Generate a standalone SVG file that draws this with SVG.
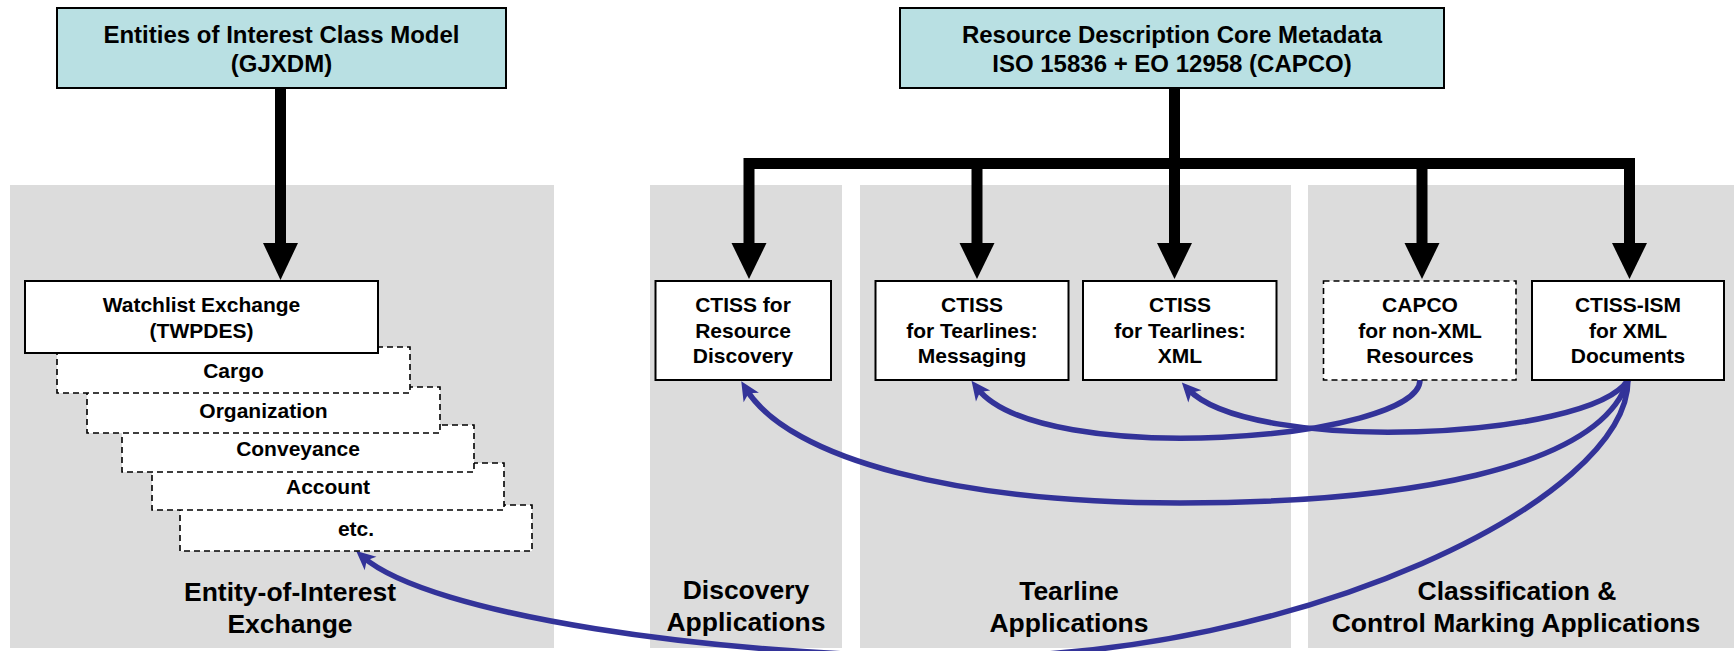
<svg xmlns="http://www.w3.org/2000/svg" width="1734" height="651" viewBox="0 0 1734 651">
<style>
text{font-family:"Liberation Sans",Arial,Helvetica,sans-serif;font-weight:bold;fill:#000;text-anchor:middle}
.panel{fill:#dcdcdc}
.hdr{fill:#b9e0e3;stroke:#000;stroke-width:2}
.box{fill:#fff;stroke:#000;stroke-width:2}
.dbox{fill:#fff;stroke:#000;stroke-width:1.6;stroke-dasharray:6 4}
.t24{font-size:24px}
.t21{font-size:21px}
.lbl{font-size:26.5px}
.blk{fill:none;stroke:#000;stroke-width:11;stroke-linejoin:miter}
.head{fill:#000}
.blue{fill:none;stroke:#333399;stroke-width:5.5;marker-end:url(#ba)}
</style>
<defs>
<marker id="ba" markerUnits="userSpaceOnUse" markerWidth="32" markerHeight="32" viewBox="-16 -16 32 32" refX="0" refY="0" orient="auto">
<path d="M9,0 L-10,-9 L-5,0 L-10,9 Z" fill="#333399"/>
</marker>
</defs>

<g id="panel-entity">
<rect class="panel" x="10" y="185" width="544" height="463"/>
<text class="lbl" x="290" y="601">Entity-of-Interest</text>
<text class="lbl" x="290" y="633">Exchange</text>
</g>
<g id="panel-discovery">
<rect class="panel" x="650" y="185" width="192" height="463"/>
<text class="lbl" x="746" y="599">Discovery</text>
<text class="lbl" x="746" y="631">Applications</text>
</g>
<g id="panel-tearline">
<rect class="panel" x="860" y="185" width="431" height="463"/>
<text class="lbl" x="1069" y="600">Tearline</text>
<text class="lbl" x="1069" y="632">Applications</text>
</g>
<g id="panel-classification">
<rect class="panel" x="1308" y="185" width="426" height="463"/>
<text class="lbl" x="1517" y="600">Classification &amp;</text>
<text class="lbl" x="1516" y="632">Control Marking Applications</text>
</g>

<g id="connectors">
<line class="blk" x1="280.5" y1="88" x2="280.5" y2="245"/>
<polygon class="head" points="263,243 298,243 280.5,280"/>
<line class="blk" x1="1174.5" y1="88" x2="1174.5" y2="245"/>
<path class="blk" d="M749,245 V163.5 H1629.5 V245"/>
<line class="blk" x1="977" y1="163.5" x2="977" y2="245"/>
<line class="blk" x1="1422" y1="163.5" x2="1422" y2="245"/>
<polygon class="head" points="731.5,243 766.5,243 749,279"/>
<polygon class="head" points="959.5,243 994.5,243 977,279"/>
<polygon class="head" points="1157,243 1192,243 1174.5,279"/>
<polygon class="head" points="1404.5,243 1439.5,243 1422,279"/>
<polygon class="head" points="1612,243 1647,243 1629.5,279"/>
<path class="blue" d="M1420,380 C1420,440 1040,470 977,388"/>
<path class="blue" d="M1628,380 C1590,440 1250,455 1188,389"/>
<path class="blue" d="M1628,380 C1600,470 1400,503 1180,503 C960,503 790,460 746,389"/>
<path class="blue" d="M1628,380 C1628,500 1300,657 965,657 C715,657 430,615 363,557"/>
</g>

<g id="node-gjxdm">
<rect class="hdr" x="57" y="8" width="449" height="80"/>
<text class="t24" x="281.5" y="43">Entities of Interest Class Model</text>
<text class="t24" x="281.5" y="72">(GJXDM)</text>
</g>
<g id="node-core-metadata">
<rect class="hdr" x="900" y="8" width="544" height="80"/>
<text class="t24" x="1172" y="43">Resource Description Core Metadata</text>
<text class="t24" x="1172" y="72">ISO 15836 + EO 12958 (CAPCO)</text>
</g>

<g id="node-etc">
<rect class="dbox" x="180" y="505" width="352" height="46"/>
<text class="t21" x="356" y="536">etc.</text>
</g>
<g id="node-account">
<rect class="dbox" x="152" y="463" width="352" height="47"/>
<text class="t21" x="328" y="494">Account</text>
</g>
<g id="node-conveyance">
<rect class="dbox" x="122" y="425" width="352" height="47"/>
<text class="t21" x="298" y="456">Conveyance</text>
</g>
<g id="node-organization">
<rect class="dbox" x="87" y="387" width="353" height="46"/>
<text class="t21" x="263.5" y="418">Organization</text>
</g>
<g id="node-cargo">
<rect class="dbox" x="57" y="347" width="353" height="46"/>
<text class="t21" x="233.5" y="378">Cargo</text>
</g>
<g id="node-watchlist">
<rect class="box" x="25" y="281" width="353" height="72"/>
<text class="t21" x="201.5" y="312">Watchlist Exchange</text>
<text class="t21" x="201.5" y="338">(TWPDES)</text>
</g>

<g id="node-ctiss-discovery">
<rect class="box" x="655.5" y="281" width="175.5" height="99"/>
<text class="t21" x="743" y="312">CTISS for</text>
<text class="t21" x="743" y="338">Resource</text>
<text class="t21" x="743" y="363">Discovery</text>
</g>
<g id="node-ctiss-messaging">
<rect class="box" x="875.5" y="281" width="193" height="99"/>
<text class="t21" x="972" y="312">CTISS</text>
<text class="t21" x="972" y="338">for Tearlines:</text>
<text class="t21" x="972" y="363">Messaging</text>
</g>
<g id="node-ctiss-xml">
<rect class="box" x="1083" y="281" width="193.5" height="99"/>
<text class="t21" x="1180" y="312">CTISS</text>
<text class="t21" x="1180" y="338">for Tearlines:</text>
<text class="t21" x="1180" y="363">XML</text>
</g>
<g id="node-capco">
<rect class="dbox" x="1323.5" y="281" width="192.5" height="99"/>
<text class="t21" x="1420" y="312">CAPCO</text>
<text class="t21" x="1420" y="338">for non-XML</text>
<text class="t21" x="1420" y="363">Resources</text>
</g>
<g id="node-ctiss-ism">
<rect class="box" x="1532" y="281" width="192" height="99"/>
<text class="t21" x="1628" y="312">CTISS-ISM</text>
<text class="t21" x="1628" y="338">for XML</text>
<text class="t21" x="1628" y="363">Documents</text>
</g>
</svg>
